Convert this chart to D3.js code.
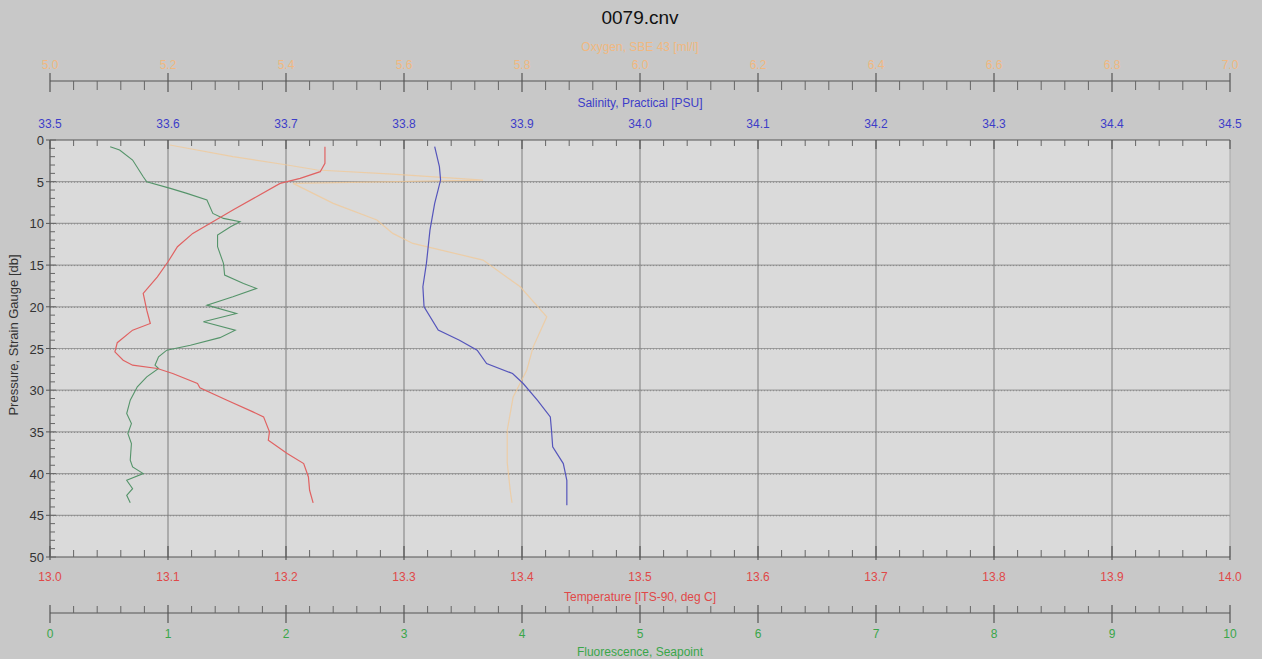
<!DOCTYPE html>
<html><head><meta charset="utf-8">
<script src="https://cdn.jsdelivr.net/npm/d3@7"></script>
<style>body{margin:0;background:#c8c8c8}svg{display:block}text{font-family:"Liberation Sans",Arial,sans-serif}</style>
</head><body><svg id="c" width="1262" height="659"></svg>
<script>
// ---- data ----
const pressureTicks = [0,5,10,15,20,25,30,35,40,45,50];
const salinityTicks = [33.5,33.6,33.7,33.8,33.9,34.0,34.1,34.2,34.3,34.4,34.5];
const temperatureTicks = [13.0,13.1,13.2,13.3,13.4,13.5,13.6,13.7,13.8,13.9,14.0];
const fluorTicks = [0,1,2,3,4,5,6,7,8,9,10];
const oxygenTicks = [5.0,5.2,5.4,5.6,5.8,6.0,6.2,6.4,6.6,6.8,7.0];

const salPressure = [0.8,3.2,4.8,7.6,10.8,14.8,17.6,20,22.8,24,25.2,26.8,28,29.2,31.2,33.2,34.8,36.8,38.8,40.8,43.8];
const salinity    = [33.826,33.830,33.831,33.826,33.822,33.819,33.816,33.817,33.829,33.847,33.862,33.870,33.892,33.901,33.913,33.924,33.925,33.926,33.935,33.938,33.938];

const tempPressure = [0.8,2.8,3.8,4.6,5.2,6.8,8.4,9.8,11.2,12.8,14.6,16.4,18.4,20.4,22,22.8,24.3,25.4,26.4,27,27.4,28,29.2,29.7,31.2,32.6,33.2,35,36,37.6,38.8,40.4,42,43.5];
const temperature  = [13.233,13.233,13.229,13.212,13.195,13.175,13.155,13.138,13.121,13.108,13.100,13.091,13.079,13.082,13.085,13.070,13.057,13.055,13.062,13.070,13.091,13.104,13.125,13.127,13.150,13.172,13.181,13.186,13.185,13.201,13.215,13.219,13.220,13.223];

const flPressure = [0.8,1.2,2.4,4.4,5.0,5.8,6.4,7.2,8.8,9.4,9.8,10.4,11.4,12.8,14.8,16.2,17.2,17.8,18.8,19.8,20.8,21.8,22.8,23.7,24.6,25.2,26,27,27.4,28.4,29.6,31.2,32.8,34,35.2,36.4,38.4,39.2,40,40.8,41.8,42.6,43.5];
const fluorescence = [0.51,0.59,0.70,0.79,0.82,1.02,1.16,1.33,1.38,1.47,1.61,1.53,1.42,1.42,1.47,1.48,1.64,1.75,1.55,1.33,1.58,1.30,1.57,1.44,1.19,0.99,0.92,0.89,0.92,0.82,0.74,0.68,0.65,0.69,0.66,0.69,0.68,0.70,0.79,0.65,0.70,0.65,0.68];

const oxPressure = [0.6,2.0,3.0,3.6,4.1,4.8,4.9,5.2,7.6,9.6,11.2,12.4,14.4,17.6,21.2,24.8,27.6,30.8,34.8,38.7,42,43.5];
const oxygen     = [5.203,5.310,5.402,5.453,5.581,5.734,5.661,5.412,5.480,5.554,5.581,5.615,5.734,5.797,5.842,5.819,5.808,5.785,5.775,5.775,5.780,5.783];

// ---- layout ----
const L = 50, R = 1230, T = 140, B = 557;
const svg = d3.select("#c");
svg.append("rect").attr("width",1262).attr("height",659).attr("fill","#c8c8c8");
svg.append("rect").attr("x",L).attr("y",T).attr("width",R-L).attr("height",B-T).attr("fill","#dadada");

const y = d3.scaleLinear().domain([0,50]).range([T,B]);
const xSal = d3.scaleLinear().domain([33.5,34.5]).range([L,R]);
const xTemp = d3.scaleLinear().domain([13,14]).range([L,R]);
const xFl = d3.scaleLinear().domain([0,10]).range([L,R]);
const xOx = d3.scaleLinear().domain([5,7]).range([L,R]);

// grid
const grid = svg.append("g");
grid.selectAll("line.h").data(pressureTicks.filter(d=>d>0&&d<50)).join("line")
  .attr("x1",L).attr("x2",R).attr("y1",d=>y(d)).attr("y2",d=>y(d))
  .attr("stroke","#9c9c9c").attr("stroke-width",1.2);
grid.selectAll("line.h2").data(pressureTicks.filter(d=>d>0&&d<50)).join("line")
  .attr("x1",L).attr("x2",R).attr("y1",d=>y(d)+0.5).attr("y2",d=>y(d)+0.5)
  .attr("stroke","#8a8a8a").attr("stroke-width",1).attr("stroke-dasharray","1,2");
grid.selectAll("line.v").data(salinityTicks.slice(1,-1)).join("line")
  .attr("x1",d=>xSal(d)).attr("x2",d=>xSal(d)).attr("y1",T).attr("y2",B)
  .attr("stroke","#7c7c7c").attr("stroke-width",1);
svg.append("line").attr("x1",R).attr("x2",R).attr("y1",T).attr("y2",B).attr("stroke","#a8a8a8");

// horizontal axis helper
function hAxis(scale, majors, y0, majUp, majDown, minUp, minDown, fmt, labelY, col) {
  const g = svg.append("g");
  const minors = [];
  for (let i = 0; i < majors.length-1; i++) {
    const a = majors[i], b = majors[i+1];
    for (let k = 1; k < 5; k++) minors.push(a + (b-a)*k/5);
  }
  g.append("line").attr("x1",scale(majors[0])).attr("x2",scale(majors[majors.length-1]))
    .attr("y1",y0).attr("y2",y0).attr("stroke","#555").attr("stroke-width",1.2);
  g.selectAll("line.mj").data(majors).join("line").attr("class","mj")
    .attr("x1",d=>scale(d)).attr("x2",d=>scale(d)).attr("y1",y0-majUp).attr("y2",y0+majDown)
    .attr("stroke","#555").attr("stroke-width",1.2);
  g.selectAll("line.mn").data(minors).join("line").attr("class","mn")
    .attr("x1",d=>scale(d)).attr("x2",d=>scale(d)).attr("y1",y0-minUp).attr("y2",y0+minDown)
    .attr("stroke","#666").attr("stroke-width",1);
  g.selectAll("text").data(majors).join("text")
    .attr("x",d=>scale(d)).attr("y",labelY).attr("text-anchor","middle")
    .attr("font-size",12).attr("fill",col).text(fmt);
  return g;
}

// top oxygen axis
hAxis(xOx, oxygenTicks, 81, 8, 11, 0, 9, d=>d.toFixed(1), 69, "#f0b880");
svg.append("text").attr("x",640).attr("y",51).attr("text-anchor","middle").attr("font-size",12)
  .attr("fill","#f0b880").text("Oxygen, SBE 43 [ml/l]");
// salinity axis (top of plot)
hAxis(xSal, salinityTicks, T, 0, 9, 0, 6, d=>d.toFixed(1), 128, "#3d3dc8");
svg.append("text").attr("x",640).attr("y",107).attr("text-anchor","middle").attr("font-size",12)
  .attr("fill","#3d3dc8").text("Salinity, Practical [PSU]");
// temperature axis (bottom of plot)
hAxis(xTemp, temperatureTicks, B, 11, 3, 7, 0, d=>d.toFixed(1), 581, "#e04848");
svg.append("text").attr("x",640).attr("y",601).attr("text-anchor","middle").attr("font-size",12)
  .attr("fill","#e04848").text("Temperature [ITS-90, deg C]");
// fluorescence axis
hAxis(xFl, fluorTicks, 613, 8, 10, 7, 0, d=>d3.format("d")(d), 638, "#3aa64a");
svg.append("text").attr("x",640).attr("y",656).attr("text-anchor","middle").attr("font-size",12)
  .attr("fill","#3aa64a").text("Fluorescence, Seapoint");

// left pressure axis
const ga = svg.append("g");
ga.append("line").attr("x1",L).attr("x2",L).attr("y1",T).attr("y2",B).attr("stroke","#555").attr("stroke-width",1.2);
ga.selectAll("line.mn").data(d3.range(0,51)).join("line")
  .attr("x1",L).attr("x2",d=>d%5===0?L+6:L+5).attr("y1",d=>y(d)).attr("y2",d=>y(d))
  .attr("stroke","#666");
ga.selectAll("line.mj").data(pressureTicks).join("line")
  .attr("x1",L-4).attr("x2",L).attr("y1",d=>y(d)).attr("y2",d=>y(d)).attr("stroke","#555");
ga.selectAll("text").data(pressureTicks).join("text")
  .attr("x",L-6).attr("y",d=>y(d)+5).attr("text-anchor","end").attr("font-size",13)
  .attr("fill","#333").text(d=>d);
svg.append("text").attr("transform","translate(18,335) rotate(-90)").attr("text-anchor","middle")
  .attr("font-size",13).attr("fill","#333").text("Pressure, Strain Gauge [db]");

// title
svg.append("text").attr("x",640).attr("y",24).attr("text-anchor","middle").attr("font-size",19)
  .attr("fill","#111").text("0079.cnv");

// traces
function trace(xs, ps, scale, color, w, op) {
  const pts = ps.map((p,i)=>[scale(xs[i]), y(p)]);
  svg.append("path").attr("d", d3.line()(pts)).attr("fill","none")
    .attr("stroke",color).attr("stroke-width",w).attr("opacity",op);
}
trace(oxygen, oxPressure, xOx, "#f2c896", 1.2, 0.75);
trace(fluorescence, flPressure, xFl, "#55946a", 1.1, 1);
trace(temperature, tempPressure, xTemp, "#e06262", 1.2, 1);
trace(salinity, salPressure, xSal, "#5555bb", 1.2, 1);
</script></body></html>
